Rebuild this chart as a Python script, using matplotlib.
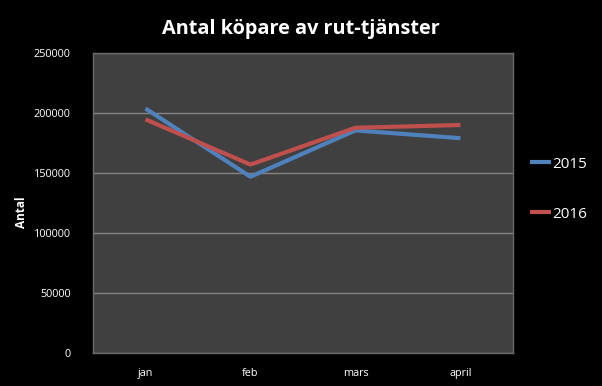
import matplotlib
matplotlib.use("Agg")
import matplotlib.pyplot as plt

plt.rcParams['font.family'] = ['Open Sans', 'DejaVu Sans']

months = ["jan", "feb", "mars", "april"]
antal_2015 = [203700, 146900, 185500, 179000]
antal_2016 = [194700, 157000, 187700, 190000]
yticks = [0, 50000, 100000, 150000, 200000, 250000]

fig = plt.figure(figsize=(6.02, 3.86), dpi=100, facecolor='black')
ax = fig.add_axes([0.1545, 0.0855, 0.6975, 0.7772])
ax.set_facecolor('#404040')

x = range(len(months))
ax.plot(x, antal_2015, color='#4F81BD', lw=3, label='2015', solid_capstyle='butt')
ax.plot(x, antal_2016, color='#C0504D', lw=3, label='2016', solid_capstyle='butt')

ax.set_xlim(-0.5, len(months) - 0.5)
ax.set_ylim(0, 250000)
ax.set_yticks(yticks)
ax.set_yticklabels([str(v) for v in yticks])
ax.set_xticks(list(x))
ax.set_xticklabels(months)
ax.yaxis.grid(True, color='#858585', lw=1)
ax.set_axisbelow(True)
ax.tick_params(colors='white', labelsize=7.8, length=0)
ax.tick_params(axis='y', pad=16)
ax.tick_params(axis='x', pad=11)
for s in ax.spines.values():
    s.set_color('#6a6a6a')
    s.set_linewidth(1)

ax.set_ylabel("Antal", color='white', fontsize=8.5, fontweight='bold')
ax.yaxis.set_label_coords(-0.155, 0.47)
fig.text(0.5, 0.925, "Antal köpare av rut-tjänster", color='white',
         fontsize=14.3, fontweight='bold', ha='center', va='center')

leg = fig.legend(loc='center left', bbox_to_anchor=(0.857, 0.51), frameon=False,
                 fontsize=11, labelcolor='white', handlelength=1.4,
                 handletextpad=0.1, labelspacing=2.3)

fig.savefig("out.png", dpi=100, facecolor='black')
